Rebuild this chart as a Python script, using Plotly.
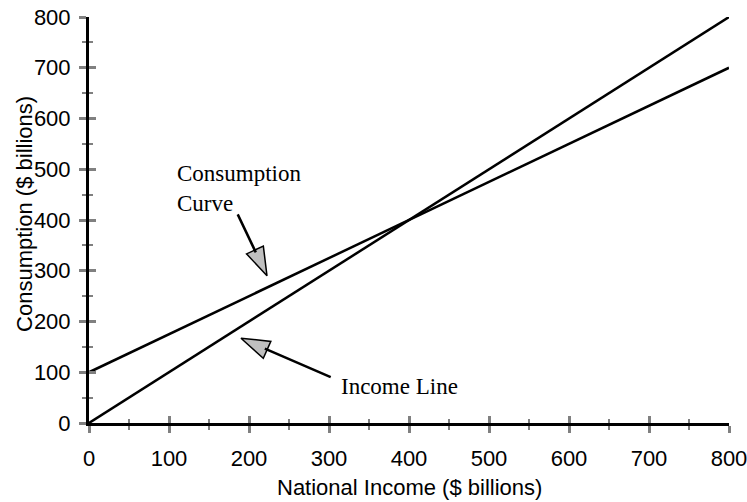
import plotly.graph_objects as go

# ---- data ----
income_x = [0, 800]
income_y = [0, 800]
consumption_x = [0, 800]
consumption_y = [100, 700]
x_ticks = [0, 100, 200, 300, 400, 500, 600, 700, 800]
y_ticks = [0, 100, 200, 300, 400, 500, 600, 700, 800]
x_title = "National Income ($ billions)"
y_title = "Consumption ($ billions)"
label_consumption = "Consumption<br>Curve"
label_income = "Income Line"

SANS = "Arial, Liberation Sans, sans-serif"
SERIF = "Times New Roman, Liberation Serif, serif"
GRAY = "#808080"
FS = 22

fig = go.Figure()
fig.add_trace(go.Scatter(x=income_x, y=income_y, mode="lines",
                         line=dict(color="black", width=2.5), hoverinfo="skip"))
fig.add_trace(go.Scatter(x=consumption_x, y=consumption_y, mode="lines",
                         line=dict(color="black", width=2.5), hoverinfo="skip"))

# arrow heads (tip at point)
fig.add_trace(go.Scatter(
    x=[222.5, 190], y=[290, 167], mode="markers", cliponaxis=False,
    marker=dict(symbol="arrow", size=30, angle=[155, -66],
                color="#c0c0c0", line=dict(color="black", width=1.5)),
    hoverinfo="skip"))

# dummy trace for overlay axes (inside ticks)
fig.add_trace(go.Scatter(x=[0], y=[0], xaxis="x2", yaxis="y2", mode="markers",
                         marker=dict(opacity=0), hoverinfo="skip"))


def axis(ticks_dir, tickvals, main):
    d = dict(range=[0, 800], tickmode="array", tickvals=tickvals, showgrid=False,
             zeroline=False, automargin=False,
             ticks=ticks_dir, ticklen=7, tickwidth=3, tickcolor=GRAY,
             minor=dict(ticks=ticks_dir, dtick=50, ticklen=4, tickwidth=2,
                        tickcolor=GRAY, showgrid=False))
    if main:
        d.update(showline=True, linecolor="black", linewidth=3,
                 tickfont=dict(family=SANS, size=FS, color="black"),
                 ticklabeloverflow="allow")
    else:
        d.update(showline=False, showticklabels=False)
    return d


xa = axis("outside", x_ticks, True)
xa.update(ticklabelstandoff=7, ticksuffix="\u00a0")
ya = axis("outside", y_ticks, True)
ya.update(ticklabelstandoff=4)
xa2 = axis("inside", x_ticks, False)
xa2.update(overlaying="x", anchor="y2", side="bottom")
ya2 = axis("inside", y_ticks, False)
ya2.update(overlaying="y", anchor="x2", side="left")

fig.update_layout(
    template="none",
    width=747, height=502, autosize=False,
    margin=dict(l=89, r=18, t=17, b=79),
    paper_bgcolor="white", plot_bgcolor="white",
    showlegend=False,
    xaxis=xa, yaxis=ya, xaxis2=xa2, yaxis2=ya2,
)

# arrow shafts
fig.add_annotation(x=222.5, y=290, ax=185, ay=414, xref="x", yref="y", axref="x", ayref="y",
                   text="", showarrow=True, arrowhead=0, arrowwidth=2.5, arrowcolor="black",
                   standoff=26)
fig.add_annotation(x=190, y=167, ax=304, ay=89, xref="x", yref="y", axref="x", ayref="y",
                   text="", showarrow=True, arrowhead=0, arrowwidth=2.5, arrowcolor="black",
                   standoff=26)

# text labels
fig.add_annotation(x=107, y=463, xref="x", yref="y", text=label_consumption, showarrow=False,
                   xanchor="left", yanchor="middle", align="left",
                   font=dict(family=SERIF, size=23, color="black"))
fig.add_annotation(x=312, y=71, xref="x", yref="y", text=label_income, showarrow=False,
                   xanchor="left", yanchor="middle", align="left",
                   font=dict(family=SERIF, size=23, color="black"))

# axis titles
fig.add_annotation(x=0.5, y=-0.16, xref="paper", yref="paper", text=x_title, showarrow=False,
                   xanchor="center", yanchor="middle",
                   font=dict(family=SANS, size=FS, color="black"))
fig.add_annotation(x=-0.10, y=0.515, xref="paper", yref="paper", text=y_title, showarrow=False,
                   textangle=-90, xanchor="center", yanchor="middle",
                   font=dict(family=SANS, size=FS, color="black"))

fig.write_html(
    "out.html",
    config={"displayModeBar": False},
    post_script="document.body.style.margin='0px';document.body.style.overflow='hidden';",
)
